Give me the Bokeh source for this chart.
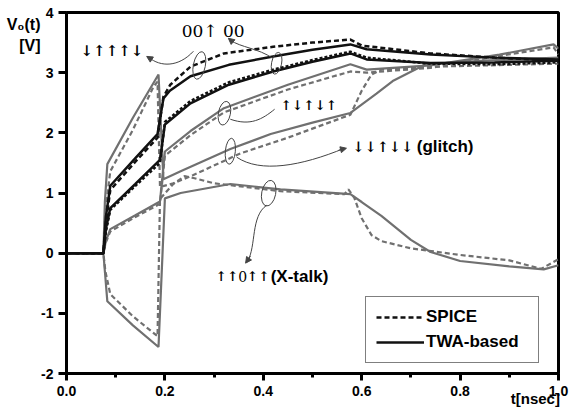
from bokeh.plotting import figure
from bokeh.models import (Range1d, FixedTicker, Label, Legend, LegendItem, Arrow, NormalHead,
                          LinearAxis, PrintfTickFormatter)
from bokeh.embed import file_html
from bokeh.resources import INLINE

# ---------------- data ----------------
x_ticks = [0.0, 0.2, 0.4, 0.6, 0.8, 1.0]
x_minor = [0.1, 0.3, 0.5, 0.7, 0.9]
y_ticks = [-2, -1, 0, 1, 2, 3, 4]
x_title = "t[nsec]"
y_title = ["V₀(t)", "[V]"]

# top black curve
blk1_t_twa = [0, 0.075, 0.08, 0.089, 0.14, 0.185, 0.197, 0.21, 0.252, 0.33, 0.42, 0.5, 0.577, 0.61, 0.74, 0.87, 1.0]
blk1_v_twa = [0, 0, 0.6, 1.12, 1.58, 1.98, 2.57, 2.7, 2.94, 3.13, 3.27, 3.38, 3.47, 3.39, 3.3, 3.25, 3.22]
blk1_t_spice = [0, 0.075, 0.08, 0.089, 0.14, 0.185, 0.197, 0.211, 0.252, 0.32, 0.42, 0.5, 0.577, 0.6, 0.74, 0.87, 1.0]
blk1_v_spice = [0, 0, 0.5, 1.05, 1.52, 1.92, 2.6, 2.8, 3.1, 3.32, 3.43, 3.5, 3.55, 3.45, 3.32, 3.25, 3.2]

# second black curve (00↑00)
blk2_t = [0, 0.075, 0.08, 0.089, 0.14, 0.19, 0.2, 0.252, 0.33, 0.42, 0.5, 0.577, 0.61, 0.74, 0.87, 1.0]
blk2_v_twa = [0, 0, 0.4, 0.75, 1.15, 1.55, 2.14, 2.49, 2.8, 3.02, 3.18, 3.32, 3.22, 3.16, 3.17, 3.2]
blk2_v_spice = [0, 0, 0.35, 0.72, 1.12, 1.5, 2.18, 2.53, 2.84, 3.05, 3.21, 3.35, 3.25, 3.15, 3.14, 3.17]

# upper gray curve (↑↓↑↓↑)
gra_t = [0, 0.075, 0.08, 0.089, 0.14, 0.19, 0.2, 0.252, 0.32, 0.45, 0.577, 0.61, 0.74, 0.88, 0.99, 1.0]
gra_v_twa = [0, 0, 0.2, 0.4, 0.63, 0.86, 1.69, 2.03, 2.41, 2.8, 3.14, 3.05, 3.12, 3.3, 3.47, 3.4]
gra_v_spice = [0, 0, 0.18, 0.36, 0.6, 0.82, 1.62, 1.96, 2.34, 2.72, 3.02, 3.0, 3.08, 3.28, 3.42, 3.3]

# triangle -> glitch gray curve (↓↓↑↓↓)
grb_t_twa = [0, 0.075, 0.078, 0.083, 0.135, 0.187, 0.197, 0.232, 0.333, 0.415, 0.5, 0.577, 0.595, 0.63, 0.663, 0.73, 0.85, 1.0]
grb_v_twa = [0, 0, 0.85, 1.48, 2.25, 2.97, 1.23, 1.36, 1.73, 1.98, 2.17, 2.33, 2.44, 2.65, 2.86, 3.14, 3.2, 3.25]
grb_t_spice = [0, 0.075, 0.079, 0.089, 0.135, 0.177, 0.185, 0.19, 0.217, 0.258, 0.354, 0.45, 0.56, 0.577, 0.6, 0.62, 0.64, 0.75, 1.0]
grb_v_spice = [0, 0, 0.7, 1.36, 2.05, 2.77, 2.85, 1.1, 1.16, 1.3, 1.66, 1.92, 2.25, 2.3, 2.7, 2.97, 3.05, 3.1, 3.15]

# dip -> cross-talk gray curve (↑↑0↑↑)
xt_t_twa = [0, 0.075, 0.078, 0.083, 0.135, 0.187, 0.2, 0.232, 0.333, 0.435, 0.577, 0.6, 0.64, 0.7, 0.74, 0.8, 0.9, 0.97, 1.0]
xt_v_twa = [0, 0, -0.3, -0.8, -1.2, -1.56, 0.91, 1.0, 1.15, 1.06, 0.98, 0.85, 0.62, 0.22, 0.02, -0.13, -0.22, -0.27, -0.2]
xt_t_spice = [0, 0.075, 0.079, 0.089, 0.135, 0.185, 0.19, 0.217, 0.24, 0.258, 0.3, 0.354, 0.435, 0.565, 0.573, 0.585, 0.6, 0.62, 0.64, 0.7, 0.8, 0.9, 0.965, 1.0]
xt_v_spice = [0, 0, -0.3, -0.68, -1.05, -1.38, 0.9, 1.15, 1.28, 1.25, 1.16, 1.11, 1.03, 0.98, 1.06, 0.92, 0.58, 0.3, 0.2, 0.08, -0.03, -0.12, -0.26, -0.1]

BLACK = "#111111"
GRAY = "#707070"
ANN = "#444444"
DASH = "5 3"
LW = 2.2
LWB = 2.5
SERIF = "DejaVu Serif"
SANS = "Liberation Sans"
VS = "\ufe0e"  # text-presentation selector for the arrow glyphs

p = figure(frame_width=492, frame_height=361, x_range=Range1d(0, 1), y_range=Range1d(-2, 4),
           output_backend="svg", toolbar_location=None,
           min_border_left=66, min_border_right=12, min_border_top=12, min_border_bottom=41)
p.grid.visible = False
p.outline_line_color = "black"
p.outline_line_width = 3
p.background_fill_color = "white"
p.border_fill_color = "white"

for ax in (p.xaxis[0], p.yaxis[0]):
    ax.axis_line_width = 3
    ax.axis_line_color = "black"
    ax.major_tick_line_width = 3
    ax.major_tick_in = 0
    ax.major_tick_out = 7
    ax.minor_tick_in = 0
    ax.minor_tick_out = 4
    ax.minor_tick_line_width = 3
    ax.major_label_text_font = SANS
    ax.major_label_text_font_style = "bold"
    ax.major_label_text_font_size = "14px"
    ax.major_label_text_color = "black"

p.xaxis[0].ticker = FixedTicker(ticks=x_ticks, minor_ticks=x_minor)
p.xaxis[0].formatter = PrintfTickFormatter(format="%.1f")
p.yaxis[0].ticker = FixedTicker(ticks=y_ticks)
p.yaxis[0].minor_tick_line_color = None
p.yaxis[0].major_tick_out = 8
p.yaxis[0].major_label_overrides = {-2: "-2", -1: "-1"}

# axis titles as extra label-only axes (outside the frame)
y_title_pos = [3.80, 3.45]
yt = LinearAxis(ticker=FixedTicker(ticks=y_title_pos),
                major_label_overrides=dict(zip(y_title_pos, y_title)),
                axis_line_color=None, major_tick_line_color=None, minor_tick_line_color=None,
                major_tick_out=0, major_tick_in=0, minor_tick_out=0, minor_tick_in=0,
                major_label_standoff=-2, major_label_text_font=SANS,
                major_label_text_font_style="bold", major_label_text_font_size="16px",
                major_label_text_color="black")
p.add_layout(yt, "left")

x_title_pos = [0.953]
xt_axis = LinearAxis(ticker=FixedTicker(ticks=x_title_pos),
                     major_label_overrides={x_title_pos[0]: x_title},
                     axis_line_color=None, major_tick_line_color=None, minor_tick_line_color=None,
                     major_tick_out=0, major_tick_in=0, minor_tick_out=0, minor_tick_in=0,
                     major_label_standoff=-9, major_label_text_font=SANS,
                     major_label_text_font_style="bold", major_label_text_font_size="15px",
                     major_label_text_color="black")
p.add_layout(xt_axis, "below")

# curves
p.line(xt_t_spice, xt_v_spice, line_color=GRAY, line_width=LW, line_dash=DASH)
p.line(xt_t_twa, xt_v_twa, line_color=GRAY, line_width=LW)
p.line(grb_t_spice, grb_v_spice, line_color=GRAY, line_width=LW, line_dash=DASH)
p.line(grb_t_twa, grb_v_twa, line_color=GRAY, line_width=LW)
p.line(gra_t, gra_v_spice, line_color=GRAY, line_width=LW, line_dash=DASH)
p.line(gra_t, gra_v_twa, line_color=GRAY, line_width=LW)
p.line(blk2_t, blk2_v_spice, line_color=BLACK, line_width=LWB, line_dash="3 2")
p.line(blk2_t, blk2_v_twa, line_color=BLACK, line_width=LWB)
r_spice = p.line(blk1_t_spice, blk1_v_spice, line_color=BLACK, line_width=LWB, line_dash=DASH)
r_twa = p.line(blk1_t_twa, blk1_v_twa, line_color=BLACK, line_width=LWB)

# annotation connectors
bx0 = [0.258, 0.419, 0.333, 0.346, 0.407]
by0 = [3.356, 3.24, 2.226, 1.595, 0.797]
bcx0 = [0.228, 0.390, 0.374, 0.394, 0.374]
bcy0 = [3.09, 3.405, 2.11, 1.329, 0.615]
bcx1 = [0.191, 0.354, 0.398, 0.476, 0.386]
bcy1 = [3.09, 3.42, 2.226, 1.445, 0.116]
bx1 = [0.167, 0.333, 0.423, 0.565, 0.368]
by1 = [3.256, 3.54, 2.392, 1.744, -0.133]
p.bezier(x0=bx0, y0=by0, x1=bx1, y1=by1, cx0=bcx0, cy0=bcy0, cx1=bcx1, cy1=bcy1,
         line_color=ANN, line_width=1)
heads = [((0.173, 3.22), (0.163, 3.27)), ((0.339, 3.505), (0.329, 3.571)),
         ((0.553, 1.711), (0.569, 1.744)), ((0.374, -0.05), (0.364, -0.166))]
for (xs, ys), (xe, ye) in heads:
    p.add_layout(Arrow(end=NormalHead(size=6, fill_color=ANN, line_color=ANN, line_width=1),
                       x_start=xs, y_start=ys, x_end=xe, y_end=ye, line_color=ANN, line_width=1))
p.ellipse(x=[0.270, 0.427, 0.321, 0.333, 0.411], y=[3.12, 3.156, 2.326, 1.694, 0.997],
          width=[12, 10, 12, 10, 14], height=[28, 22, 24, 26, 26], angle=[-0.2, -0.2, -0.2, -0.1, -0.2],
          width_units="screen", height_units="screen", fill_color=None, line_color=ANN, line_width=1)


def lab(x, y, text, font=SERIF, size="15px", style="normal", align="left"):
    if font == SERIF:
        text = "".join(ch + VS if ch in "↑↓" else ch for ch in text)
    p.add_layout(Label(x=x, y=y, text=text, text_font=font, text_font_size=size,
                       text_font_style=style, text_align=align, text_baseline="middle",
                       text_color="black"))


lab(0.0285, 3.355, "↓↑↑↑↓", style="bold")
lab(0.234, 3.688, "00↑ 00", size="17px")
lab(0.435, 2.458, "↑↓↑↓↑", size="13.5px", style="bold")
lab(0.581, 1.777, "↓↓↑↓↓", size="14.5px", style="bold")
lab(0.712, 1.777, "(glitch)", SANS, "17px", "bold")
lab(0.303, -0.382, "↑↑", size="13.5px", style="bold")
lab(0.349, -0.382, "0", size="14px")
lab(0.3665, -0.382, "↑↑", size="13.5px", style="bold")
lab(0.415, -0.382, "(X-talk)", SANS, "17px", "bold")

legend = Legend(items=[LegendItem(label="SPICE", renderers=[r_spice]),
                       LegendItem(label="TWA-based", renderers=[r_twa])],
                location=(299, 10), glyph_width=48, glyph_height=16, label_height=16,
                label_width=102, label_standoff=2, spacing=5, padding=10, margin=0,
                border_line_color="black", border_line_width=1.2,
                label_text_font=SANS, label_text_font_style="bold", label_text_font_size="17px",
                label_text_color="black",
                background_fill_color="white", background_fill_alpha=1)
p.add_layout(legend)

open("out.html", "w").write(file_html(p, INLINE))
